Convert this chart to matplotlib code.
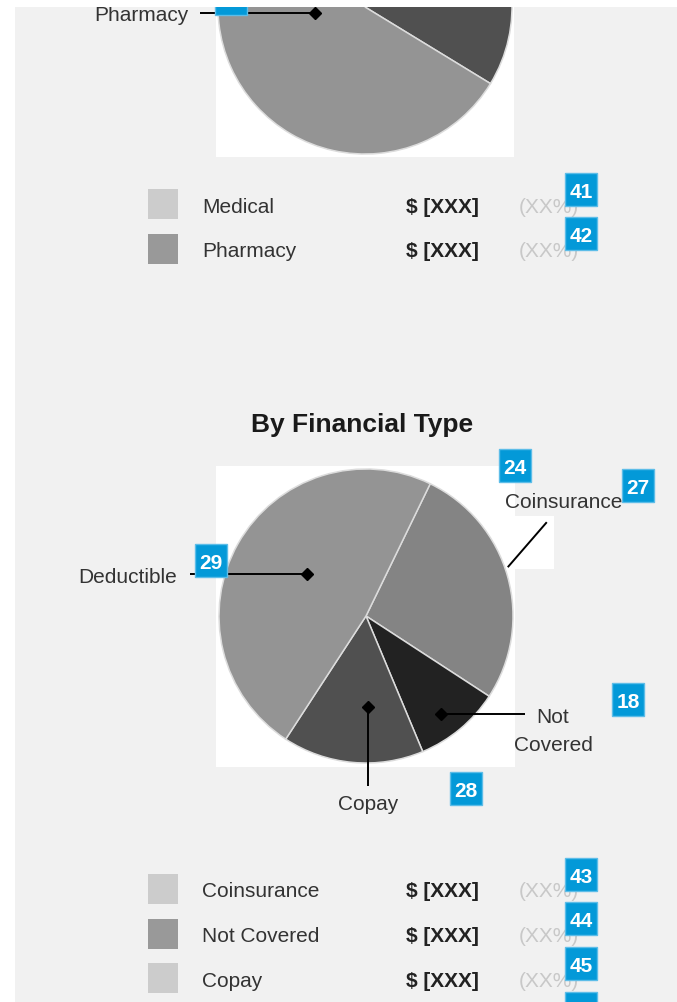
import numpy as np
import matplotlib
matplotlib.use("Agg")
import matplotlib.pyplot as plt
from matplotlib.patches import Rectangle

plt.rcParams['font.family'] = ['Liberation Sans', 'DejaVu Sans']

W, H = 677, 1003

# ---------------- data ----------------
plan_categories = ["Medical", "Pharmacy"]
plan_shares = [21, 79]
plan_colors = ["#505050", "#949494"]
plan_swatches = ["#cccccc", "#999999"]
plan_badges = ["41", "42"]

fin_title = "By Financial Type"
fin_categories = ["Coinsurance", "Not Covered", "Copay", "Deductible"]
fin_shares = [27, 9.5, 15.5, 48]
fin_colors = ["#848484", "#222222", "#505050", "#949494"]
fin_swatches = ["#cccccc", "#999999", "#cccccc", "#999999"]
fin_badges = ["43", "44", "45", "46"]

amount_text = "$ [XXX]"
pct_text = "(XX%)"

# annotation tags around the financial pie: (tag, x, y)
pie_tags = [("24", 515, 466), ("27", 638, 486), ("29", 211, 561),
            ("18", 628, 700), ("28", 466, 789)]

LABEL_PT = 15
LABEL_PX = LABEL_PT * 100 / 72
TEXT_C = "#333333"
BADGE_FC = "#0399d8"
BADGE_EC = "#5dbde8"

fig = plt.figure(figsize=(W / 100, H / 100), dpi=100, facecolor="#f1f1f1")

# background layer (pixel coordinates, y downwards)
bg = fig.add_axes([0, 0, 1, 1], zorder=0)
bg.set_xlim(0, W)
bg.set_ylim(H, 0)
bg.axis("off")

# overlay layer for labels, leaders, legend rows and tags
ov = fig.add_axes([0, 0, 1, 1], zorder=2)
ov.set_xlim(0, W)
ov.set_ylim(H, 0)
ov.axis("off")
ov.patch.set_alpha(0)


def baseline(yc, px=LABEL_PX):
    return yc + 0.36 * px


def label(x, yc, s, ha="left", **kw):
    kw.setdefault("color", TEXT_C)
    kw.setdefault("fontsize", LABEL_PT)
    ov.text(x, baseline(yc, kw["fontsize"] * 100 / 72), s, ha=ha,
            va="baseline", zorder=5, **kw)


def badge(cx, cy, tag):
    ov.add_patch(Rectangle((cx - 16, cy - 16.5), 32, 33, facecolor=BADGE_FC,
                           edgecolor=BADGE_EC, linewidth=1, zorder=6))
    if tag:
        ov.text(cx, cy + 7.6, tag, ha="center", va="baseline", color="white",
                fontsize=15, fontweight="bold", zorder=7)


def draw_pie(cx, cy, r, shares, colors, start):
    axp = fig.add_axes([(cx - r) / W, (H - cy - r) / H, 2 * r / W, 2 * r / H],
                       zorder=1)
    wedges, _ = axp.pie(shares, colors=colors, startangle=start,
                        counterclock=False, radius=1,
                        wedgeprops=dict(edgecolor="#dcdcdc", linewidth=1.1))
    axp.set_xlim(-1, 1)
    axp.set_ylim(-1, 1)
    axp.set_aspect("equal")
    axp.axis("off")
    axp.patch.set_alpha(0)
    return wedges


def anchor(w, t, f, cx, cy, r):
    a = np.deg2rad(w.theta1 + t * (w.theta2 - w.theta1))
    return cx + f * r * np.cos(a), cy - f * r * np.sin(a)


def leader(xs, ys, marker=True):
    ov.plot(xs, ys, color="black", lw=1.4, zorder=3, solid_capstyle="butt")
    if marker:
        ov.plot(xs[-1], ys[-1], marker="D", ms=6, color="black", zorder=4)


def legend_rows(y0, cats, swatches, tags):
    for i, (c, sw, tg) in enumerate(zip(cats, swatches, tags)):
        yc = y0 + i * 44.7
        if yc + 12 > H:
            # row runs off the page: only the top of its tag shows
            badge(581, yc - 15, "")
            continue
        ov.add_patch(Rectangle((148, yc - 15), 30, 30, facecolor=sw,
                               edgecolor="none", zorder=4))
        label(202, yc, c)
        label(406, yc, amount_text, fontweight="bold", color="#222222")
        label(519, yc, pct_text, color="#c8c8c8")
        badge(581, yc - 15, tg)


# ---------------- plan type pie (top) ----------------
pcx, pcy, pr = 365, 8, 147
bg.add_patch(Rectangle((216, -200), 298, 358, facecolor="white",
                       edgecolor="none"))
plan_wedges = draw_pie(pcx, pcy, pr, plan_shares, plan_colors, 44.2)
mx, my = anchor(plan_wedges[1], 0.5, 0.34, pcx, pcy, pr)
leader([200, mx], [my, my])
label(188, my, plan_categories[1], ha="right")
badge(231, my - 14, "")
legend_rows(205, plan_categories, plan_swatches, plan_badges)

# ---------------- financial type pie (bottom) ----------------
fcx, fcy, fr = 366, 617, 147
bg.add_patch(Rectangle((216, 467), 299, 301, facecolor="white",
                       edgecolor="none"))
bg.add_patch(Rectangle((514, 517), 40, 53, facecolor="white",
                       edgecolor="none"))
ov.text(362, 432, fin_title, ha="center", va="baseline", fontsize=19,
        fontweight="bold", color="#1a1a1a", zorder=5)

fin_wedges = draw_pie(fcx, fcy, fr, fin_shares, fin_colors, 64.1)
wmap = dict(zip(fin_categories, fin_wedges))

# Deductible: horizontal leader to the left
mx, my = anchor(wmap["Deductible"], 0.466, 0.49, fcx, fcy, fr)
leader([190, mx], [my, my])
label(177, my, "Deductible", ha="right")

# Copay: vertical leader downwards
mx, my = anchor(wmap["Copay"], 0.616, 0.62, fcx, fcy, fr)
leader([mx, mx], [787, my])
label(mx, 803, "Copay", ha="center")

# Not Covered: horizontal leader to the right, two-line label
mx, my = anchor(wmap["Not Covered"], 0.43, 0.84, fcx, fcy, fr)
leader([525, mx], [my, my])
for i, word in enumerate("Not Covered".split()):
    label(553, my + i * 28, word, ha="center")

# Coinsurance: slanted leader from the rim
sx, sy = anchor(wmap["Coinsurance"], 0.536, 1.02, fcx, fcy, fr)
leader([sx, sx + 39], [sy, sy - 45], marker=False)
label(505, 500, "Coinsurance")

for tg, x, y in pie_tags:
    badge(x, y, tg)

legend_rows(890, fin_categories, fin_swatches, fin_badges)

# page margins
fig.add_artist(Rectangle((0, 1 - 8 / H), 1, 8 / H, transform=fig.transFigure,
                         facecolor="white", edgecolor="none", zorder=10))
fig.add_artist(Rectangle((0, 0), 15 / W, 1, transform=fig.transFigure,
                         facecolor="white", edgecolor="none", zorder=10))

fig.savefig("out.png", dpi=100, facecolor=fig.get_facecolor())
